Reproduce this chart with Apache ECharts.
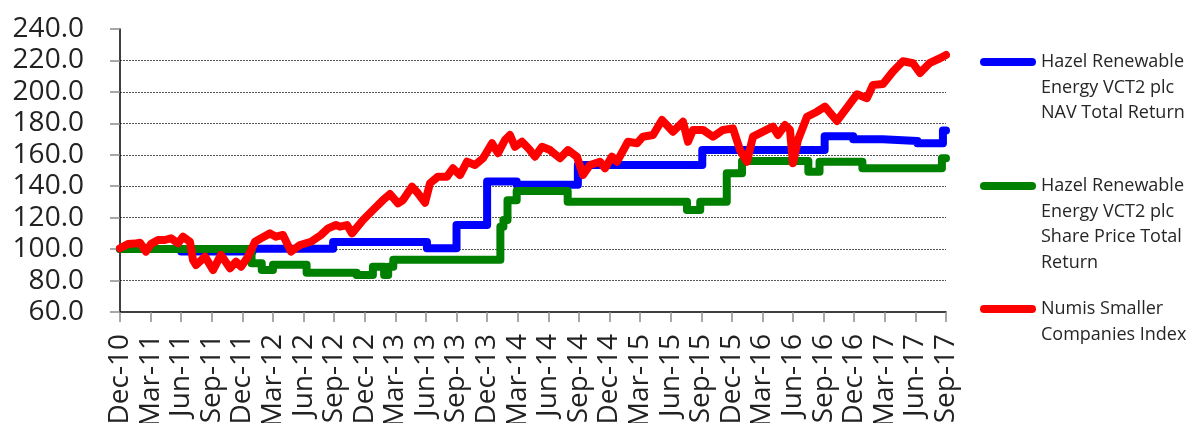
<!DOCTYPE html>
<html>
<head>
<meta charset="utf-8">
<script src="https://cdn.jsdelivr.net/npm/echarts@6/dist/echarts.min.js"></script>
<style>
html,body{margin:0;padding:0;background:#fff;}
#chart{width:1190px;height:423px;}
</style>
</head>
<body>
<div id="chart"></div>
<script>
// x values are months after Dec-10 (Dec-10 = 0, Sep-17 = 81)
const tickLabels = ['Dec-10','Mar-11','Jun-11','Sep-11','Dec-11','Mar-12','Jun-12','Sep-12','Dec-12','Mar-13','Jun-13','Sep-13','Dec-13','Mar-14','Jun-14','Sep-14','Dec-14','Mar-15','Jun-15','Sep-15','Dec-15','Mar-16','Jun-16','Sep-16','Dec-16','Mar-17','Jun-17','Sep-17'];

const seriesNames = ['Hazel Renewable Energy VCT2 plc NAV Total Return','Hazel Renewable Energy VCT2 plc Share Price Total Return','Numis Smaller Companies Index'];
const legendLines = [['Hazel Renewable','Energy VCT2 plc','NAV Total Return'],['Hazel Renewable','Energy VCT2 plc','Share Price Total','Return'],['Numis Smaller','Companies Index']];

const navMonths = [0, 6, 13, 20.9, 30.1, 33, 36, 38.9, 44.9, 57.1, 69.1, 71.9, 74.8, 78.2, 80.7, 81];
const navValues = [100, 98.5, 100.3, 104.6, 100.5, 115.3, 143, 141, 153.5, 163, 171.8, 169.8, 168.8, 167.3, 175.5, 175.5];

const sharePriceMonths = [0, 12.9, 13.9, 15, 18.3, 23.2, 24.8, 25.9, 26.3, 26.8, 37.3, 37.6, 38, 38.9, 43.9, 55.6, 56.9, 59.5, 61, 67.5, 68.6, 72.8, 80.6, 81];
const sharePriceValues = [100, 91, 86.7, 90, 85, 83.5, 88.8, 83.5, 88.8, 93.3, 114.3, 118.5, 131, 137, 130.2, 124.9, 130.2, 148.2, 156, 149.2, 155.6, 151.4, 157.8, 157.8];

const numisMonths = [0, 0.78, 1.47, 1.96, 2.55, 3.04, 3.73, 4.41, 5.0, 5.69, 6.18, 6.86, 7.16, 7.45, 8.34, 9.12, 9.9, 10.79, 11.37, 11.87, 12.55, 13.24, 13.83, 14.71, 15.3, 15.98, 16.77, 17.65, 18.73, 19.71, 20.4, 21.18, 21.57, 22.26, 22.75, 23.83, 24.81, 25.79, 26.48, 27.26, 27.75, 28.63, 29.22, 29.91, 30.4, 31.18, 32.07, 32.65, 33.34, 34.03, 34.81, 35.6, 36.48, 37.07, 37.75, 38.24, 38.73, 39.42, 40.2, 40.69, 41.38, 42.17, 43.15, 43.93, 44.81, 45.4, 46.09, 47.07, 47.56, 48.24, 48.74, 49.81, 50.7, 51.28, 52.27, 53.15, 54.23, 55.21, 55.7, 56.19, 57.17, 58.15, 59.13, 60.11, 60.8, 61.48, 62.07, 63.05, 64.03, 64.52, 65.21, 65.7, 65.99, 66.48, 67.37, 68.35, 69.13, 70.31, 71.29, 72.27, 73.25, 73.84, 74.82, 75.8, 76.78, 77.76, 78.45, 79.43, 80.41, 81];
const numisValues = [100.5, 103.2, 103.5, 104, 98.4, 103.2, 105.8, 105.8, 106.9, 103.7, 107.9, 104.7, 93.1, 89.9, 95.2, 86.7, 96.3, 87.8, 92, 88.8, 95.2, 104.7, 106.9, 110, 107.9, 109, 98.4, 102.6, 104.7, 109, 113.2, 115.3, 114.3, 115.3, 110, 118.5, 124.9, 131.2, 135, 129.1, 131.2, 139.7, 135.5, 129.5, 141.9, 146.1, 146.1, 151.4, 147.1, 155.6, 153.5, 157.8, 167.3, 161, 169.4, 172.6, 165.1, 168.3, 163, 158.8, 165.1, 163, 157.8, 163, 158.8, 147.1, 153.5, 155.6, 151.4, 158.8, 155.6, 168.3, 167.3, 171.5, 172.6, 182.1, 174.7, 181, 168.3, 175.8, 175.8, 171.5, 175.8, 176.8, 163, 155.6, 171.5, 174.7, 177.9, 172.6, 178.9, 175.8, 154.6, 169.4, 184.2, 187.4, 190.6, 181.5, 190, 198.5, 196, 204.4, 205, 213, 219.5, 218.2, 212, 218.5, 221.4, 223.5];

const colors = ['#0000FF', '#008000', '#FF0000'];

function pairs(xs, ys) { return xs.map((x, i) => [x, ys[i]]); }

const FONT = 'Open Sans';
const pill = 'path://M4,0H52A4,4,0,0,1,52,8H4A4,4,0,0,1,4,0Z';

// Legend text is vertically centred on its icon; leading empty lines put the first line level with the icon.
function makeLegend(i, top) {
  const lines = legendLines[i];
  const lead = lines.length - 1;
  const text = '\n'.repeat(lead) + lines.join('\n');
  return {
    data: [seriesNames[i]],
    left: 980, top: top, orient: 'vertical', padding: 0,
    itemWidth: 56, itemHeight: 8, icon: pill,
    itemStyle: { borderWidth: 0 },
    selectedMode: false,
    formatter: () => text,
    textStyle: { fontFamily: FONT, fontSize: 18, lineHeight: 25.5, color: '#262626' }
  };
}

const chart = echarts.init(document.getElementById('chart'), null, { renderer: 'canvas' });
chart.setOption({
  animation: false,
  backgroundColor: '#fff',
  color: colors,
  grid: { left: 120, right: 244, top: 29, bottom: 111, containLabel: false, outerBoundsMode: 'none' },
  legend: [ makeLegend(0, -1.75), makeLegend(1, 96.75), makeLegend(2, 270.75) ],
  xAxis: {
    type: 'value', min: 0, max: 81, interval: 3,
    axisLine: { lineStyle: { color: '#000', width: 1.5 } },
    axisTick: { show: true, length: 10, lineStyle: { color: '#8c8c8c', width: 1.5 } },
    axisLabel: { rotate: 90, fontFamily: FONT, fontSize: 28, color: '#222', margin: 22, showMinLabel: true, showMaxLabel: true,
      formatter: v => tickLabels[Math.round(v / 3)] },
    splitLine: { show: false }
  },
  yAxis: {
    type: 'value', min: 60, max: 240, interval: 20,
    axisLine: { show: true, lineStyle: { color: '#000', width: 1.5 } },
    axisTick: { show: true, length: 10, lineStyle: { color: '#8c8c8c', width: 1.5 } },
    axisLabel: { fontFamily: FONT, fontSize: 28, color: '#222', margin: 36, formatter: v => v.toFixed(1) },
    splitLine: { show: true, showMinLine: false, showMaxLine: false, lineStyle: { type: [2, 1], color: '#555', width: 1 } }
  },
  series: [
    { name: seriesNames[0], type: 'line', step: 'end', showSymbol: false, data: pairs(navMonths, navValues),
      lineStyle: { width: 8, color: colors[0], cap: 'round', join: 'round' }, itemStyle: { color: colors[0] } },
    { name: seriesNames[1], type: 'line', step: 'end', showSymbol: false, data: pairs(sharePriceMonths, sharePriceValues),
      lineStyle: { width: 8, color: colors[1], cap: 'round', join: 'round' }, itemStyle: { color: colors[1] } },
    { name: seriesNames[2], type: 'line', showSymbol: false, data: pairs(numisMonths, numisValues),
      lineStyle: { width: 8, color: colors[2], cap: 'round', join: 'round' }, itemStyle: { color: colors[2] } }
  ]
});
</script>
</body>
</html>
